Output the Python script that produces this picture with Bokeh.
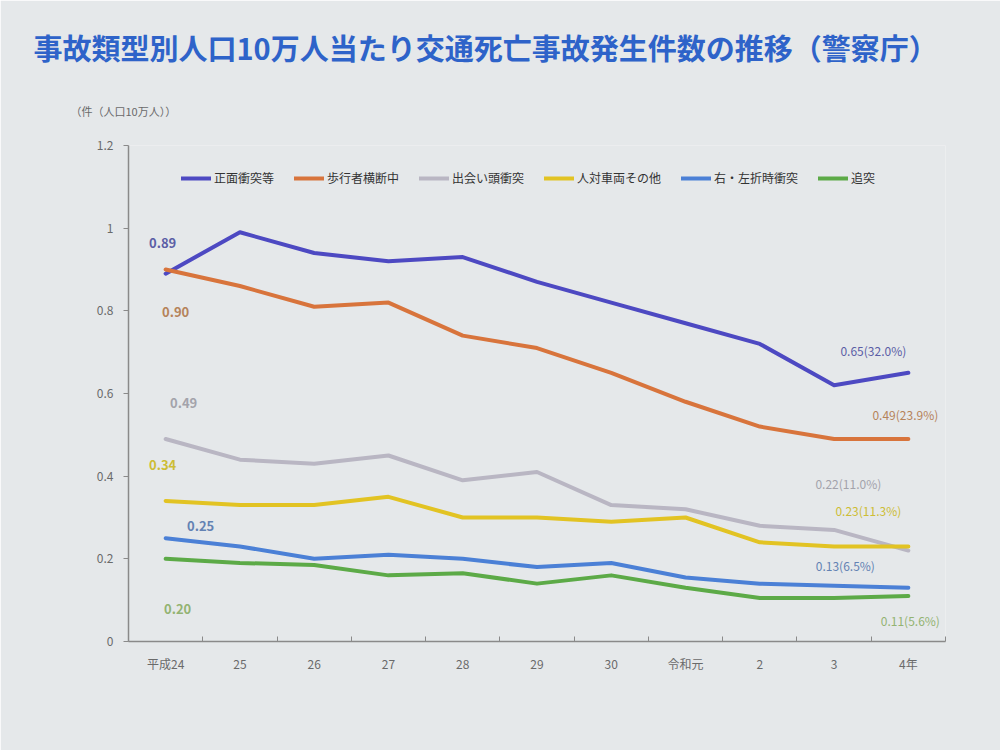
from bokeh.plotting import figure
from bokeh.models import (ColumnDataSource, FixedTicker, Legend, LegendItem,
                          LabelSet, Range1d, Title)
from bokeh.core.properties import value
from bokeh.embed import file_html
from bokeh.resources import INLINE

# ---------------- data ----------------
years = ["平成24", "25", "26", "27", "28", "29", "30", "令和元", "2", "3", "4年"]
series_names = ["正面衝突等", "歩行者横断中", "出会い頭衝突", "人対車両その他", "右・左折時衝突", "追突"]
head_on = [0.89, 0.99, 0.94, 0.92, 0.93, 0.87, 0.82, 0.77, 0.72, 0.62, 0.65]
pedestrian = [0.90, 0.86, 0.81, 0.82, 0.74, 0.71, 0.65, 0.58, 0.52, 0.49, 0.49]
crossing = [0.49, 0.44, 0.43, 0.45, 0.39, 0.41, 0.33, 0.32, 0.28, 0.27, 0.22]
other_ped = [0.34, 0.33, 0.33, 0.35, 0.30, 0.30, 0.29, 0.30, 0.24, 0.23, 0.23]
turning = [0.25, 0.23, 0.20, 0.21, 0.20, 0.18, 0.19, 0.155, 0.14, 0.135, 0.13]
rear_end = [0.20, 0.19, 0.185, 0.16, 0.165, 0.14, 0.16, 0.13, 0.105, 0.105, 0.11]
start_labels = ["0.89", "0.90", "0.49", "0.34", "0.25", "0.20"]
end_labels = ["0.65(32.0%)", "0.49(23.9%)", "0.22(11.0%)", "0.23(11.3%)", "0.13(6.5%)", "0.11(5.6%)"]

all_series = [head_on, pedestrian, crossing, other_ped, turning, rear_end]
line_colors = ["#4d49c2", "#d8743c", "#b9b6c3", "#e2c323", "#4b80d6", "#5caa47"]
label_colors = ["#5b5ea6", "#b5835a", "#a3a3ab", "#cdbd35", "#6382b3", "#93b372"]
start_dx = [-3, 10, 18, -3, 35, 12]
start_dy = [31, -42, 36, 36, 12, -50]
end_dx = [-35, -3, -60, -40, -63, 2]
end_dy = [22, 24, 67, 36, 22, -24]

FONT = "Noto Sans CJK JP"
BG = "#e5e8ea"

x = list(range(len(years)))

p = figure(width=1000, height=750, output_backend="svg", toolbar_location=None,
           x_range=Range1d(-0.5, len(years) - 0.5), y_range=Range1d(0, 1.2),
           min_border_left=128, min_border_right=55, min_border_top=145,
           min_border_bottom=109)
p.background_fill_color = BG
p.border_fill_color = BG
p.outline_line_color = None
p.grid.visible = False

p.title.text = "事故類型別人口10万人当たり交通死亡事故発生件数の推移（警察庁）"
p.title.text_font = FONT
p.title.text_font_size = "29px"
p.title.text_font_style = "bold"
p.title.text_color = "#2e63c9"
p.title.align = "left"
p.title.offset = -95
p.title.standoff = 12

unit = Title(text="（件（人口10万人））", text_font=FONT, text_font_size="11px",
             text_font_style="normal", text_color="#6a6a6a", align="left",
             offset=-58, standoff=54)
p.add_layout(unit, "above")

# axes
p.xaxis.ticker = FixedTicker(ticks=x, minor_ticks=[i + 0.5 for i in range(-1, len(years))])
p.xaxis.major_label_overrides = {i: years[i] for i in x}
p.xaxis.minor_tick_in = 5
p.xaxis.minor_tick_out = 0
p.xaxis.minor_tick_line_color = "#8a8a8a"
p.yaxis.ticker = FixedTicker(ticks=[0, 0.2, 0.4, 0.6, 0.8, 1, 1.2], minor_ticks=[])
p.yaxis.major_label_overrides = {0: "0", 0.2: "0.2", 0.4: "0.4", 0.6: "0.6",
                                 0.8: "0.8", 1: "1", 1.2: "1.2"}
p.yaxis.major_tick_in = 0
p.yaxis.major_tick_out = 5
for ax in (p.xaxis, p.yaxis):
    ax.axis_line_color = "#8a8a8a"
    ax.axis_line_width = 1.5
    ax.major_label_text_font = FONT
    ax.major_label_text_font_size = "12px"
    ax.major_label_text_color = "#6a6a6a"
p.xaxis.major_tick_line_color = None
p.yaxis.major_tick_line_color = "#8a8a8a"
p.xaxis.major_label_standoff = 7
p.yaxis.major_label_standoff = 10

# lines
items = []
for name, vals, col in zip(series_names, all_series, line_colors):
    r = p.line(x, vals, line_color=col, line_width=4, line_join="round", line_cap="round")
    items.append(LegendItem(label=name, renderers=[r]))

legend = Legend(items=items, orientation="horizontal", location=(53, 455),
                background_fill_alpha=0, border_line_color=None,
                label_text_font=FONT, label_text_font_size="12px",
                label_text_color="#333333", glyph_width=30, glyph_height=12,
                label_standoff=3, spacing=20, padding=0, margin=0)
p.add_layout(legend)

# data labels
first = 0
last = len(years) - 1
src_start = ColumnDataSource(dict(
    x=[first] * len(all_series), y=[s[first] for s in all_series],
    text=start_labels, color=label_colors, dx=start_dx, dy=start_dy))
src_end = ColumnDataSource(dict(
    x=[last] * len(all_series), y=[s[last] for s in all_series],
    text=end_labels, color=label_colors, dx=end_dx, dy=end_dy))
p.add_layout(LabelSet(x="x", y="y", text="text", source=src_start,
                      x_offset="dx", y_offset="dy", text_color="color",
                      text_font=value(FONT), text_font_size=value("13px"),
                      text_font_style="bold",
                      text_align="center", text_baseline="middle"))
p.add_layout(LabelSet(x="x", y="y", text="text", source=src_end,
                      x_offset="dx", y_offset="dy", text_color="color",
                      text_font=value(FONT), text_font_size=value("12px"),
                      text_align="center", text_baseline="middle"))

open("out.html", "w").write(file_html(p, INLINE))
